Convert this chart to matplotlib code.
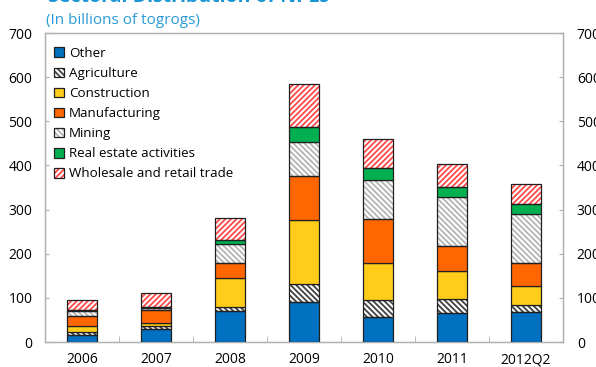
import matplotlib
matplotlib.use("Agg")
import matplotlib.pyplot as plt
from matplotlib.patches import Patch
from matplotlib.legend_handler import HandlerTuple
import numpy as np

plt.rcParams['font.family'] = ['Open Sans', 'DejaVu Sans']
plt.rcParams['hatch.linewidth'] = 1.3

# NPLs by sector, billions of togrogs
periods = ['2006', '2007', '2008', '2009', '2010', '2011', '2012Q2']
other = [15, 30, 71, 91, 57, 65, 69]
agriculture = [8, 6, 9, 41, 39, 32, 14]
construction = [13, 7, 64, 144, 83, 64, 45]
manufacturing = [23, 30, 36, 100, 100, 57, 51]
mining = [11, 4, 43, 77, 87, 110, 110]
real_estate = [2, 3, 9, 34, 29, 24, 24]
wholesale = [23, 31, 50, 98, 64, 51, 45]

sectors = [
    ('Other', other, '#0070C0', None, None),
    ('Agriculture', agriculture, 'white', '#404040', '\\\\\\\\\\\\'),
    ('Construction', construction, '#FFCC1A', None, None),
    ('Manufacturing', manufacturing, '#FF6600', None, None),
    ('Mining', mining, 'white', '#B4B4B4', '\\\\\\\\\\\\'),
    ('Real estate activities', real_estate, '#00B050', None, None),
    ('Wholesale and retail trade', wholesale, 'white', '#FF4848', '//////'),
]

fig = plt.figure(figsize=(5.96, 3.67), dpi=100)
ax = fig.add_axes([0.0755, 0.068, 0.869, 0.842])

x = np.arange(len(periods))
width = 0.4
bottom = np.zeros(len(periods))
handles = []
for name, vals, face, hcolor, hatch in sectors:
    vals = np.array(vals, dtype=float)
    if hatch:
        # hatch drawn in its own colour, black outline on top
        ax.bar(x, vals, width, bottom=bottom, color=face, edgecolor=hcolor,
               hatch=hatch, linewidth=0, zorder=2)
        ax.bar(x, vals, width, bottom=bottom, fill=False, edgecolor='#202020',
               linewidth=0.9, zorder=3)
        handles.append((Patch(facecolor=face, edgecolor=hcolor, hatch=hatch, linewidth=0),
                        Patch(fill=False, edgecolor='#202020', linewidth=0.9)))
    else:
        ax.bar(x, vals, width, bottom=bottom, color=face, edgecolor='#202020',
               linewidth=0.9, zorder=3)
        handles.append(Patch(facecolor=face, edgecolor='#202020', linewidth=0.9))
    bottom += vals

ax.set_xlim(-0.5, len(periods) - 0.5)
ax.set_ylim(0, 700)
ax.set_yticks(range(0, 701, 100))
ax.set_xticks(x)
ax.set_xticklabels(periods)
ax.set_xticks(np.arange(0.5, len(periods) - 1, 1), minor=True)
ax.tick_params(axis='x', which='major', length=0, pad=7.5, labelsize=10)
ax.tick_params(axis='x', which='minor', direction='in', length=4, color='#B0B0B0')
ax.tick_params(axis='y', direction='in', length=3, color='#B0B0B0', pad=9, labelsize=10)
for s in ax.spines.values():
    s.set_color('#B0B0B0')
    s.set_linewidth(1.0)

ax2 = ax.twinx()
ax2.set_ylim(0, 700)
ax2.set_yticks(range(0, 701, 100))
ax2.tick_params(axis='y', direction='in', length=3, color='#B0B0B0', pad=10, labelsize=10)
for s in ax2.spines.values():
    s.set_color('#B0B0B0')

leg = ax.legend(handles, [s[0] for s in sectors], loc='upper left',
                bbox_to_anchor=(0.0, 0.985), frameon=False, fontsize=9.6,
                handlelength=0.75, handleheight=0.75, handletextpad=0.35,
                labelspacing=0.53, borderaxespad=0.3,
                handler_map={tuple: HandlerTuple(ndivide=1, pad=0)})

fig.text(0.08, 0.995, 'Sectoral Distribution of NPLs', fontsize=14, fontweight='bold',
         color='#1A96D4', va='baseline')
fig.text(0.078, 0.935, '(In billions of togrogs)', fontsize=11, color='#2A9BD6',
         va='baseline')

fig.savefig('out.png', dpi=100)
